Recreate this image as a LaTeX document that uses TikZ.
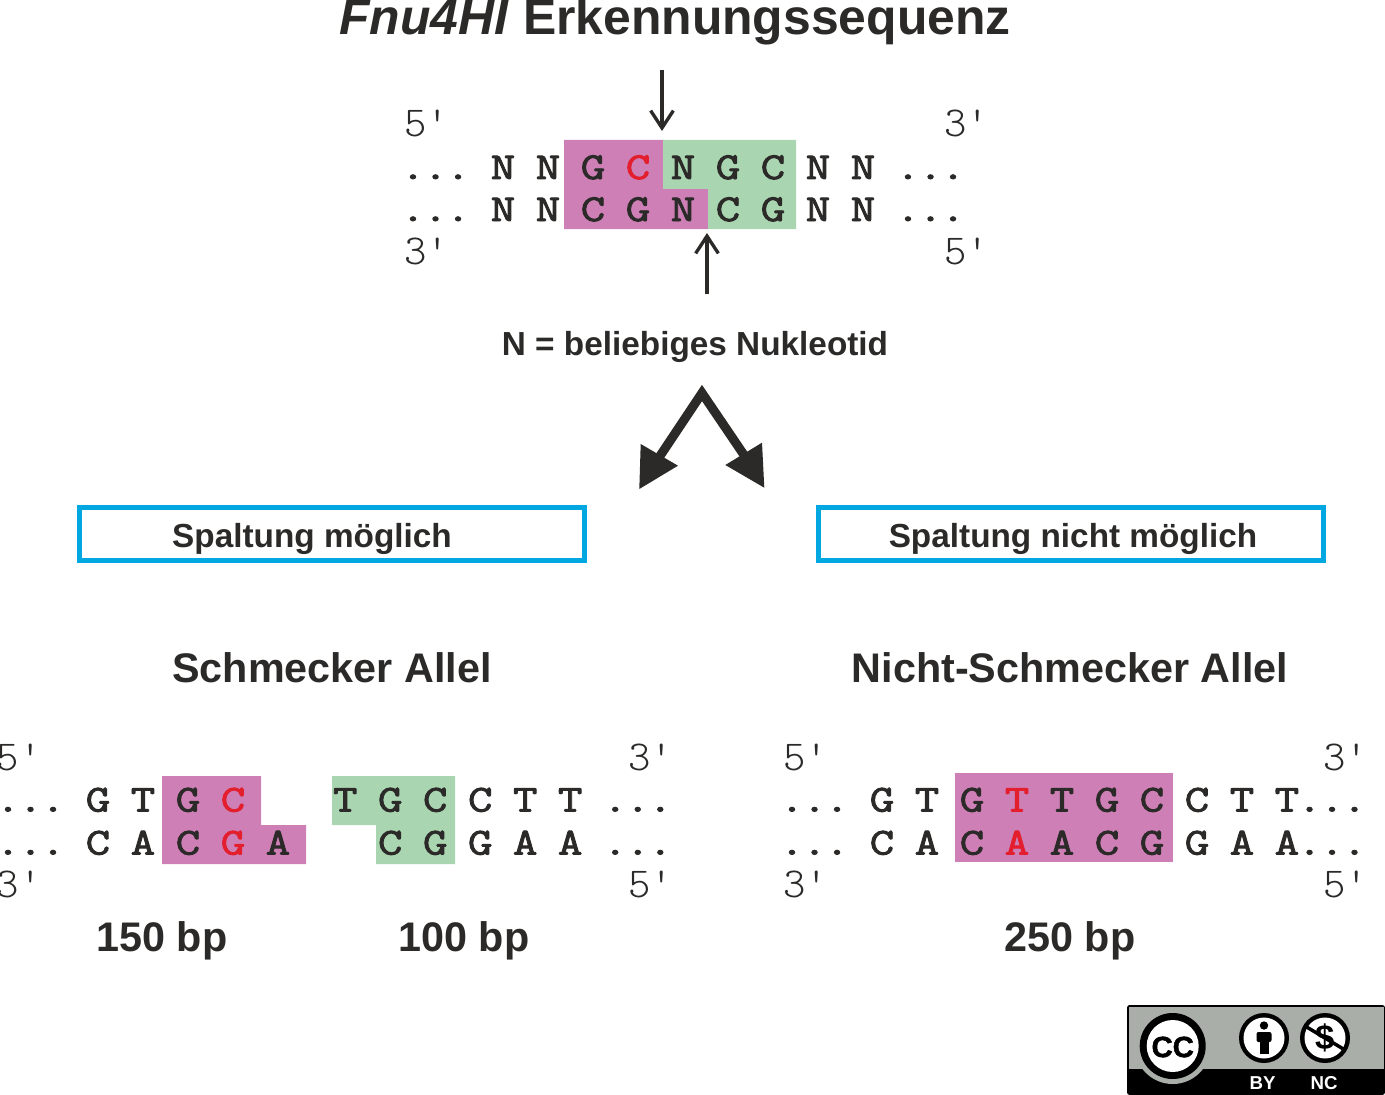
\documentclass[tikz,border=0pt]{standalone}
\usepackage{fontspec}
\setmainfont{Liberation Sans}
\setmonofont{Latin Modern Mono Light}
\newfontfamily\seqfont{Latin Modern Mono}[FakeBold=2.5,FakeStretch=1.25]
\newfontfamily\badgefont{Liberation Sans Bold}[FakeBold=1.5]
\usetikzlibrary{arrows.meta}
\definecolor{ink}{HTML}{2B2A29}
\definecolor{magen}{HTML}{CE7FB5}
\definecolor{grn}{HTML}{A9D5B0}
\definecolor{boxblue}{HTML}{00A7E1}
\definecolor{redl}{HTML}{E31E2D}
\definecolor{badge}{HTML}{A9AFA8}
\newcommand{\rd}[1]{\textcolor{redl}{#1}}
\newcommand{\pri}[1]{#1\textquotesingle}
% one fixed cell per character; "-" is an empty cell
\newcommand{\cell}[1]{\makebox[16.875pt]{#1}}
\def\sqx#1{\ifx\relax#1\else\ifx-#1\cell{}\else\cell{#1}\fi\expandafter\sqx\fi}
\newcommand{\sq}[1]{\sqx#1\relax}
\tikzset{
  x=0.75pt,y=-0.75pt,
  strand/.style={anchor=base west,inner sep=0,outer sep=0,text=ink,font=\fontsize{28.5}{33}\selectfont\seqfont},
  endlabel/.style={anchor=base west,inner sep=0,outer sep=0,text=ink,font=\fontsize{32}{33}\selectfont\ttfamily},
  heading/.style={inner sep=0,text=ink,font=\fontsize{31}{31}\selectfont\bfseries},
  boxlabel/.style={inner sep=0,text=ink,font=\fontsize{25}{25}\selectfont\bfseries},
  statebox/.style={draw=boxblue,line width=3.75pt,inner sep=0},
  cut/.style={draw=ink,line width=2.5pt,-{Straight Barb[length=13pt,width=17pt,line width=2.5pt]}},
  bigline/.style={draw=ink,line width=6.8pt,miter limit=10},
}
\begin{document}
\begin{tikzpicture}
\useasboundingbox (0,0) rectangle (1385,1095);
% title
\node[inner sep=0,text=ink,font=\fontsize{37.4}{38}\selectfont\bfseries] (title) at (675,22) {\textit{Fnu4HI} Erkennungssequenz};
% shaded sites
\fill[magen] (564,140) -- (663,140) -- (663,189) -- (708,189) -- (708,229) -- (564,229) -- cycle;
\fill[grn] (663,140) -- (796,140) -- (796,229) -- (708,229) -- (708,189) -- (663,189) -- cycle;
\fill[magen] (162,776) -- (261,776) -- (261,825) -- (306,825) -- (306,864) -- (162,864) -- cycle;
\fill[grn] (332,776) -- (455,776) -- (455,864) -- (376,864) -- (376,825) -- (332,825) -- cycle;
\fill[magen] (955,773) rectangle (1173,862);
% top sequence
\node[strand] (t1) at (401.75,179) {\sq{...-N-N-G-{\rd{C}}-N-G-C-N-N-...}};
\node[strand] (t2) at (401.75,221) {\sq{...-N-N-C-G-N-C-G-N-N-...}};
\node[endlabel] (t5a) at (404,137) {\pri{5}};
\node[endlabel] (t3a) at (944,137) {\pri{3}};
\node[endlabel] (t3b) at (404,264) {\pri{3}};
\node[endlabel] (t5b) at (944,264) {\pri{5}};
\coordinate (cutAs) at (662,70); \coordinate (cutAe) at (662,131);
\coordinate (cutBs) at (707,294); \coordinate (cutBe) at (707,233);
\draw[cut] (cutAs) -- (cutAe);
\draw[cut] (cutBs) -- (cutBe);
\node[boxlabel] (nlabel) at (695,346.5) {N = beliebiges Nukleotid};
% big arrows
\coordinate (apex) at (702,393);
\coordinate (leftEnd) at (660,456);
\coordinate (rightEnd) at (744,455);
\draw[bigline] (leftEnd) -- (apex) -- (rightEnd);
\fill[ink] (640.7,444) -- (639.3,489) -- (678,465.7) -- cycle;
\fill[ink] (762,442.7) -- (764.3,487.7) -- (725.3,465) -- cycle;
% boxes
\node[statebox,minimum width=379pt,minimum height=40pt] (boxL) at (332,534) {};
\node[statebox,minimum width=379pt,minimum height=40pt] (boxR) at (1071,534) {};
\node[boxlabel] (boxLt) at (312,538.5) {Spaltung möglich};
\node[boxlabel] (boxRt) at (1073,538.5) {Spaltung nicht möglich};
\node[heading] (h1) at (332,668) {Schmecker Allel};
\node[heading] (h2) at (1070,668) {Nicht-Schmecker Allel};
% left allele
\node[strand] (l1) at (-3.25,811.5) {\sq{...-G-T-G-{\rd{C}}}};
\node[strand] (l2) at (-3.25,854.5) {\sq{...-C-A-C-{\rd{G}}-A}};
\node[strand] (m1) at (334,811.5) {\sq{T-G-C-C-T-T-...}};
\node[strand] (m2) at (379,854.5) {\sq{C-G-G-A-A-...}};
\node[endlabel] (l5a) at (-3,770) {\pri{5}};
\node[endlabel] (l3b) at (-3,897) {\pri{3}};
\node[endlabel] (m3a) at (628,770) {\pri{3}};
\node[endlabel] (m5b) at (628,897) {\pri{5}};
% right allele
\node[strand] (r1) at (780.75,811.5) {\sq{...-G-T-G-{\rd{T}}-T-G-C-C-T-T...}};
\node[strand] (r2) at (780.75,854.5) {\sq{...-C-A-C-{\rd{A}}-A-C-G-G-A-A...}};
\node[endlabel] (r5a) at (783,770) {\pri{5}};
\node[endlabel] (r3b) at (783,897) {\pri{3}};
\node[endlabel] (r3a) at (1323,770) {\pri{3}};
\node[endlabel] (r5b) at (1323,897) {\pri{5}};
% sizes
\node[heading] (s1) at (162,941) {150 bp};
\node[heading] (s2) at (464,941) {100 bp};
\node[heading] (s3) at (1070,941) {250 bp};
% licence badge
\fill[black,rounded corners=2pt] (1127,1005) rectangle (1385,1095);
\fill[badge] (1128.5,1006.5) rectangle (1383.5,1069);
\begin{scope}
\clip (1128.5,1006.5) rectangle (1383.5,1095);
\fill[badge] (1172.7,1046) circle[radius=38];
\end{scope}
\fill[black] (1172.7,1046) circle[radius=33];
\fill[white] (1172.7,1046) circle[radius=26];
\node[inner sep=0,font=\fontsize{22}{22}\selectfont\badgefont] (cc) at (1172.7,1047) {CC};
\fill[black] (1264,1038) circle[radius=25];
\fill[white] (1264,1038) circle[radius=20.5];
\fill[black] (1264,1025.5) circle[radius=4.2];
\fill[black,rounded corners=1.5pt] (1256.5,1032) rectangle (1271.5,1042);
\fill[black] (1259.5,1036) rectangle (1268.5,1054);
\fill[black] (1325,1038) circle[radius=25];
\fill[white] (1325,1038) circle[radius=20.5];
\node[inner sep=0,font=\fontsize{26}{26}\selectfont\bfseries] (dollar) at (1325,1038) {\$};
\draw[black,line width=2.6pt] (1305,1026) -- (1345,1050);
\node[inner sep=0,text=white,font=\fontsize{14}{14}\selectfont\bfseries] (by) at (1262.7,1083) {BY};
\node[inner sep=0,text=white,font=\fontsize{14}{14}\selectfont\bfseries] (nc) at (1324,1083) {NC};
\end{tikzpicture}
\end{document}
